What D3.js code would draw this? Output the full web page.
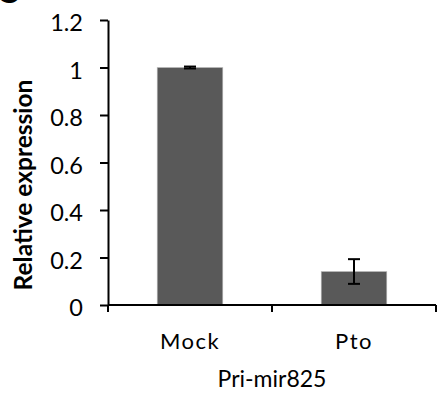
<!DOCTYPE html>
<html><head><meta charset="utf-8">
<script src="https://cdn.jsdelivr.net/npm/d3@7"></script>
<style>body{margin:0;background:#fff;} text{font-family:Lato,"Open Sans",sans-serif;}</style>
</head><body>
<svg id="c" width="446" height="394"></svg>
<script>
const categories = ["Mock", "Pto"];
const values = [1.0, 0.141];
const errors = [0.004, 0.052];
const yTicks = [0, 0.2, 0.4, 0.6, 0.8, 1, 1.2];
const xTitle = "Pri-mir825";
const yTitle = "Relative expression";

(function () {
const svg = d3.select("#c");
const mL = 108, mR = 436, mT = 20, mB = 305;
const x = d3.scaleBand().domain(categories).range([mL, mR]).paddingInner(0.6).paddingOuter(0.3);
const y = d3.scaleLinear().domain([0, 1.2]).range([mB, mT]);

// panel letter (cropped at top edge, as in the reference)
svg.append("text").attr("x", -4).attr("y", 3).attr("font-size", 34).attr("font-weight", "bold").text("C");

// bars
svg.selectAll("rect.bar").data(values).enter().append("rect")
  .attr("x", (d, i) => x(categories[i])).attr("width", x.bandwidth())
  .attr("y", d => y(d)).attr("height", d => y(0) - y(d))
  .attr("fill", "#595959").attr("stroke", "#bdbdbd").attr("stroke-width", 0.6);

// error bars
const eg = svg.append("g").attr("stroke", "#000").attr("stroke-width", 2);
values.forEach((v, i) => {
  const cx = x(categories[i]) + x.bandwidth() / 2;
  eg.append("line").attr("x1", cx).attr("x2", cx).attr("y1", y(v + errors[i])).attr("y2", y(v - errors[i]));
  eg.append("line").attr("x1", cx - 6).attr("x2", cx + 6).attr("y1", y(v + errors[i])).attr("y2", y(v + errors[i]));
  eg.append("line").attr("x1", cx - 6).attr("x2", cx + 6).attr("y1", y(v - errors[i])).attr("y2", y(v - errors[i]));
});

// y axis
const ya = svg.append("g").attr("transform", `translate(${mL},0)`)
  .call(d3.axisLeft(y).tickValues(yTicks).tickSize(8).tickSizeOuter(0).tickFormat(d => d3.format("")(d)));
ya.select(".domain").attr("stroke-width", 2);
ya.selectAll(".tick line").attr("stroke-width", 2);
ya.selectAll("text").attr("font-size", 23.5).attr("x", -25).attr("dy", "0.45em").attr("fill", "#000").attr("font-family", "Lato");

// x axis line with separators
const xg = svg.append("g").attr("stroke", "#000").attr("stroke-width", 2);
xg.append("line").attr("x1", mL).attr("x2", mR).attr("y1", mB).attr("y2", mB);
const seps = [mL, (mL + mR) / 2, mR];
seps.forEach(s => xg.append("line").attr("x1", s).attr("x2", s).attr("y1", mB).attr("y2", mB + 7));

svg.selectAll("text.xl").data(categories).enter().append("text")
  .attr("x", d => x(d) + x.bandwidth() / 2).attr("y", 349).attr("text-anchor", "middle")
  .attr("font-size", 22).attr("letter-spacing", 1.5).text(d => d);

svg.append("text").attr("x", (mL + mR) / 2).attr("y", 387).attr("text-anchor", "middle")
  .attr("font-size", 23).text(xTitle);

svg.append("text").attr("transform", `translate(32,185) rotate(-90)`)
  .attr("text-anchor", "middle").attr("font-size", 24.5).attr("font-weight", "bold").text(yTitle);
})();
</script>
</body></html>
